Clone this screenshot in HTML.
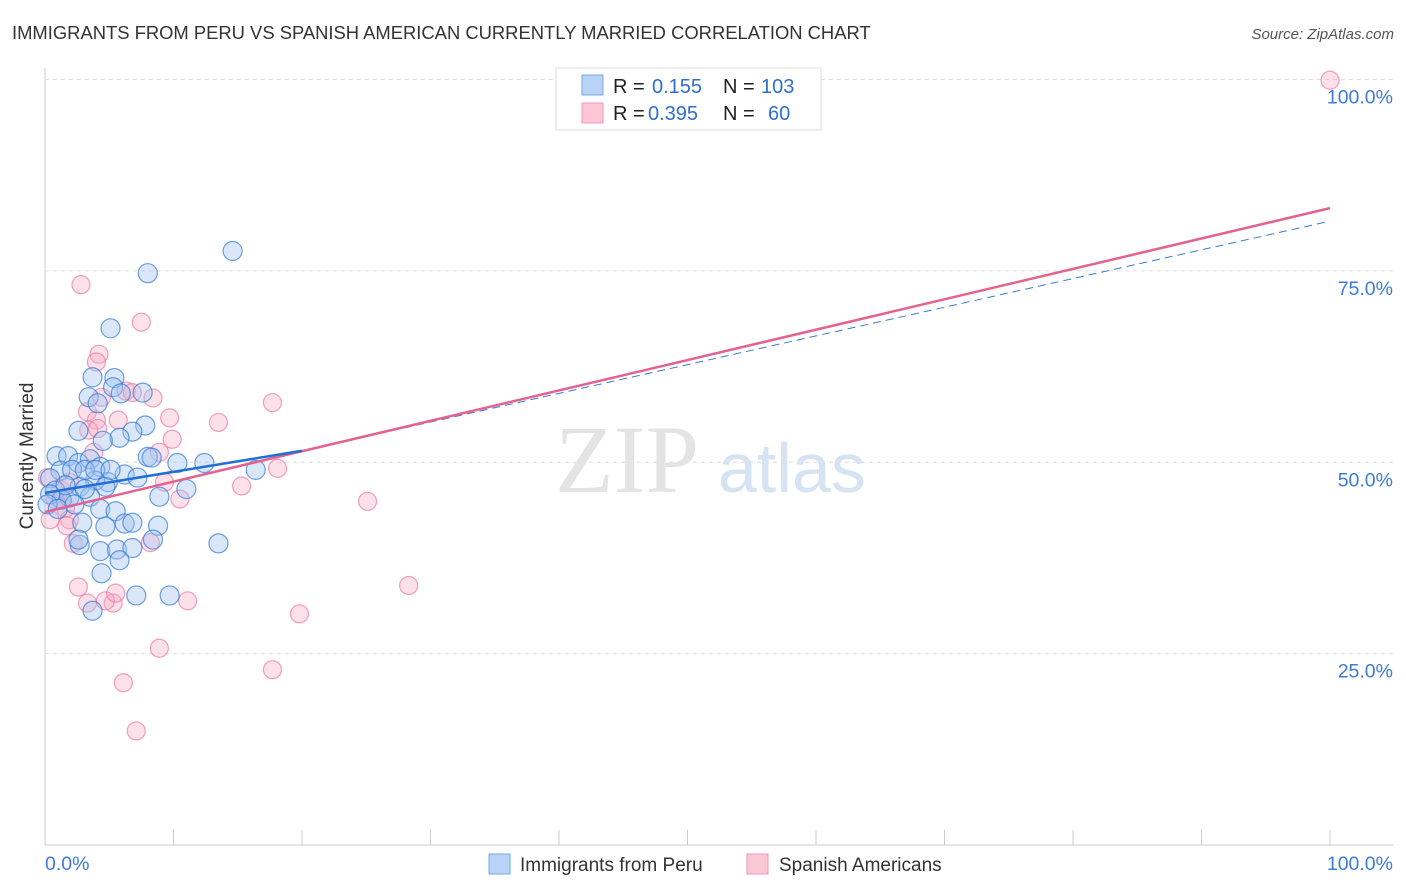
<!DOCTYPE html>
<html><head><meta charset="utf-8">
<style>
body{margin:0;background:#fff;font-family:"Liberation Sans",sans-serif;}
svg{display:block}
</style></head><body>
<svg id="chart" width="1406" height="892">
<text x="12" y="39" font-size="18.4" fill="#333">IMMIGRANTS FROM PERU VS SPANISH AMERICAN CURRENTLY MARRIED CORRELATION CHART</text>
<text x="1394" y="39" font-size="15" fill="#555" font-style="italic" text-anchor="end">Source: ZipAtlas.com</text>
<text transform="translate(33,456) rotate(-90)" font-size="19" fill="#333" text-anchor="middle">Currently Married</text>
<g id="grid"></g>
<text x="555" y="492" font-size="96" fill="#e4e4e4" font-family="Liberation Serif,serif">ZIP</text>
<text x="718" y="492" font-size="70" fill="#d6e3f3">atlas</text>
<g id="points"></g>
<g id="lines"></g>
<g>
<rect x="556" y="68" width="265" height="62" fill="#fff" stroke="#ddd"/>
<rect x="582" y="75" width="21" height="20" fill="#b8d3f5" stroke="#7aa8e6"/>
<rect x="582" y="103" width="21" height="20" fill="#fbc6d6" stroke="#ee9ab4"/>
<text x="613" y="93" font-size="20" fill="#222">R = </text><text x="652" y="93" font-size="20" fill="#2f6fd0">0.155</text>
<text x="723" y="93" font-size="20" fill="#222">N = </text><text x="761" y="93" font-size="20" fill="#2f6fd0">103</text>
<text x="613" y="120" font-size="20" fill="#222">R = </text><text x="648" y="120" font-size="20" fill="#2f6fd0">0.395</text>
<text x="723" y="120" font-size="20" fill="#222">N = </text><text x="768" y="120" font-size="20" fill="#2f6fd0">60</text>
</g>
<g>
<rect x="489" y="854" width="21" height="20" fill="#b8d3f5" stroke="#7aa8e6"/>
<text x="520" y="871" font-size="19" fill="#333">Immigrants from Peru</text>
<rect x="747" y="854" width="21" height="20" fill="#fbc6d6" stroke="#ee9ab4"/>
<text x="779" y="871" font-size="19" fill="#333">Spanish Americans</text>
</g>
</svg>
<script>
const yTicks=[25,50,75,100];
const yTickLabels=["25.0%","50.0%","75.0%","100.0%"];
const xTickLabels=["0.0%","100.0%"];
const blueX=[14.6,8.0,5.1,3.7,5.4,5.3,7.6,3.4,4.1,5.9,7.8,6.8,2.6,5.8,4.5,0.9,1.8,2.6,3.5,4.3,8.0,8.3,10.3,12.4,16.4,6.2,7.2,4.9,3.9,4.7,2.7,1.2,0.4,0.8,1.9,3.5,4.3,5.5,8.9,11.0,2.9,4.7,6.2,6.8,8.8,8.4,13.5,2.7,4.3,5.6,6.8,4.4,5.8,2.6,7.1,9.7,3.7,1.3,2.1,3.1,1.6,0.4,0.2,1.0,2.3,3.1,3.9,5.1];
const blueY=[77.6,74.7,67.5,61.1,61.0,59.8,59.1,58.5,57.7,59.0,54.8,54.0,54.1,53.2,52.8,50.8,50.8,49.9,50.4,49.4,50.7,50.6,49.9,49.9,49.0,48.4,48.0,47.4,47.6,46.8,46.8,48.9,47.9,46.3,45.4,45.5,43.9,43.6,45.5,46.5,42.1,41.6,42.0,42.1,41.7,39.9,39.4,39.2,38.4,38.6,38.8,35.5,37.2,39.9,32.6,32.6,30.6,45.1,49.0,49.0,47.0,45.8,44.5,43.9,44.5,46.5,49.0,49.0];
const pinkX=[100,2.8,7.5,4.2,4.0,4.4,6.3,6.8,8.4,3.3,17.7,4.0,5.7,9.7,13.5,3.4,4.1,9.9,8.9,3.8,18.1,9.3,15.3,10.5,25.1,1.6,1.9,1.7,2.2,8.2,2.6,28.3,3.3,5.3,4.7,5.5,11.1,19.8,8.9,6.1,17.7,7.1,0.4,0.8,1.2,0.2,1.9];
const pinkY=[99.9,73.2,68.3,64.1,63.1,58.5,59.3,59.1,58.4,56.6,57.8,55.5,55.5,55.8,55.2,54.2,54.4,53.0,51.3,51.3,49.2,47.4,46.9,45.2,44.9,44.0,42.5,41.7,39.4,39.5,33.7,33.9,31.6,31.6,31.9,32.9,31.9,30.2,25.7,21.2,22.9,14.9,42.5,45.1,46.4,48.0,47.4];
const blueTrend=[0,46.0,20,51.5,100,81.5];
const pinkTrend=[0,43.5,100,83.2];
const X=v=>45+v*12.85, Y=v=>845-v*7.655;
const NS="http://www.w3.org/2000/svg";
function mk(p,t,a){const e=document.createElementNS(NS,t);for(const k in a)e.setAttribute(k,a[k]);p.appendChild(e);return e;}
const grid=document.getElementById('grid');
mk(grid,'line',{x1:45,y1:68,x2:45,y2:845,stroke:'#ccc'});
mk(grid,'line',{x1:45,y1:845,x2:1393,y2:845,stroke:'#ccc'});
for(let i=0;i<=10;i++){const t=mk(grid,'line',{x1:45+i*128.5,y1:830,x2:45+i*128.5,y2:845,stroke:'#ccc'});

}
yTicks.forEach((v,i)=>{const l=mk(grid,'line',{x1:45,y1:Y(v),x2:1393,y2:Y(v),stroke:'#ddd','stroke-dasharray':'4,4'});


const t=mk(grid,'text',{x:1393,y:Y(v)+24,'font-size':19.5,fill:'#3d7bd9','text-anchor':'end'});t.textContent=yTickLabels[i];

});
const xl0=mk(grid,'text',{x:45,y:870,'font-size':19.5,fill:'#3d7bd9'});xl0.textContent=xTickLabels[0];


const xl1=mk(grid,'text',{x:1393,y:870,'font-size':19.5,fill:'#3d7bd9','text-anchor':'end'});xl1.textContent=xTickLabels[1];


const pts=document.getElementById('points');
pinkX.forEach((x,i)=>{const c=mk(pts,'circle',{cx:X(x),cy:Y(pinkY[i]),r:9,fill:'rgba(248,170,195,0.35)',stroke:'rgba(236,120,160,0.7)','stroke-width':1.2});

});
blueX.forEach((x,i)=>{const c=mk(pts,'circle',{cx:X(x),cy:Y(blueY[i]),r:9.5,fill:'rgba(160,195,240,0.4)',stroke:'rgba(50,120,215,0.7)','stroke-width':1.2});

});
const ln=document.getElementById('lines');
const bd=mk(ln,'line',{x1:X(blueTrend[2]),y1:Y(blueTrend[3]),x2:X(blueTrend[4]),y2:Y(blueTrend[5]),stroke:'#3a7bd5','stroke-width':1,'stroke-dasharray':'8,5'});


const pl=mk(ln,'line',{x1:X(pinkTrend[0]),y1:Y(pinkTrend[1]),x2:X(pinkTrend[2]),y2:Y(pinkTrend[3]),stroke:'#e4628f','stroke-width':2.5});


const bl=mk(ln,'line',{x1:X(blueTrend[0]),y1:Y(blueTrend[1]),x2:X(blueTrend[2]),y2:Y(blueTrend[3]),stroke:'#1f6fd6','stroke-width':2.5});


</script>
</body></html>
